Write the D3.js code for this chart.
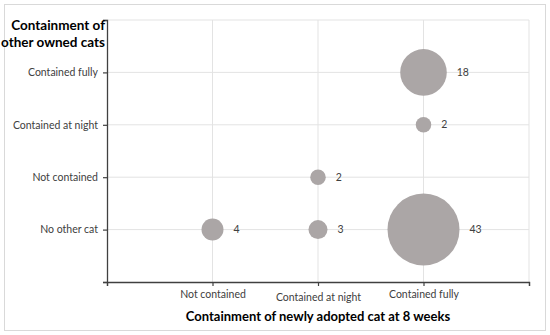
<!DOCTYPE html>
<html>
<head>
<meta charset="utf-8">
<script src="https://cdn.jsdelivr.net/npm/d3@7"></script>
<style>
  body { margin: 0; background: #fff; }
  text { font-family: Lato, "Open Sans", sans-serif; fill: #404040; }
</style>
</head>
<body>
<div id="chart"></div>
<script>
// categories (x = newly adopted cat, y = other owned cats)
const xCats = ['Not contained', 'Contained at night', 'Contained fully'];
const yCats = ['No other cat', 'Not contained', 'Contained at night', 'Contained fully'];

// bubbles: x category, y category, count
const bubbleX = ['Not contained', 'Contained at night', 'Contained at night', 'Contained fully', 'Contained fully', 'Contained fully'];
const bubbleY = ['No other cat', 'No other cat', 'Not contained', 'No other cat', 'Contained at night', 'Contained fully'];
const bubbleN = [4, 3, 2, 43, 2, 18];

const width = 550, height = 335;
const margin = { top: 20, left: 107, right: 21, bottom: 53 };

const svg = d3.select('#chart').append('svg')
  .attr('width', width)
  .attr('height', height);

// outer frame
svg.append('rect')
  .attr('x', 4.5).attr('y', 4.5)
  .attr('width', 541).attr('height', 326)
  .attr('fill', 'none')
  .attr('stroke', '#d9d9d9');

const x = d3.scaleLinear()
  .domain([0, xCats.length + 1])
  .range([margin.left, width - margin.right]);

const y = d3.scaleLinear()
  .domain([0, yCats.length + 1])
  .range([height - margin.bottom, margin.top]);

const r = d3.scaleSqrt()
  .domain([0, d3.max(bubbleN)])
  .range([0, 36]);

const xPos = c => x(xCats.indexOf(c) + 1);
const yPos = c => y(yCats.indexOf(c) + 1);

// gridlines
svg.append('g')
  .selectAll('line')
  .data(d3.range(1, xCats.length + 2))
  .enter()
  .append('line')
  .attr('x1', d => x(d)).attr('x2', d => x(d))
  .attr('y1', y(0)).attr('y2', y(yCats.length + 1))
  .attr('stroke', '#e3e3e3');

svg.append('g')
  .selectAll('line')
  .data(d3.range(1, yCats.length + 2))
  .enter()
  .append('line')
  .attr('x1', x(0)).attr('x2', x(xCats.length + 1))
  .attr('y1', d => y(d)).attr('y2', d => y(d))
  .attr('stroke', '#e3e3e3');

// axes
const xAxis = d3.axisBottom(x)
  .ticks(xCats.length + 1)
  .tickSize(4)
  .tickFormat(d => xCats[d - 1] || '');

const yAxis = d3.axisLeft(y)
  .ticks(yCats.length + 1)
  .tickSize(4)
  .tickFormat(d => yCats[d - 1] || '');

const gx = svg.append('g')
  .attr('transform', 'translate(0,' + y(0) + ')')
  .call(xAxis);

const gy = svg.append('g')
  .attr('transform', 'translate(' + x(0) + ',0)')
  .call(yAxis);

[gx, gy].forEach(g => {
  g.select('.domain').attr('stroke', '#404040').attr('stroke-width', 1.3);
  g.selectAll('.tick line').attr('stroke', '#404040').attr('stroke-width', 1.2);
  g.selectAll('.tick text')
    .style('font-family', 'Lato, sans-serif')
    .style('font-size', '10.5px')
    .attr('fill', '#404040');
});

gx.selectAll('.tick text')
  .attr('y', 8)
  .attr('dy', d => d === 2 ? '1.0em' : '0.75em');
gy.selectAll('.tick text').attr('x', -9);

// bubbles
svg.append('g')
  .selectAll('circle')
  .data(bubbleN)
  .enter()
  .append('circle')
  .attr('cx', (d, i) => xPos(bubbleX[i]))
  .attr('cy', (d, i) => yPos(bubbleY[i]))
  .attr('r', d => r(d))
  .attr('fill', '#aba6a6');

svg.append('g')
  .selectAll('text')
  .data(bubbleN)
  .enter()
  .append('text')
  .attr('x', (d, i) => xPos(bubbleX[i]) + r(d) + 10)
  .attr('y', (d, i) => yPos(bubbleY[i]))
  .attr('dy', '0.35em')
  .style('font-size', '10.5px')
  .text(d => d);

// axis titles
svg.append('text')
  .attr('x', (x(0) + x(xCats.length + 1)) / 2)
  .attr('y', 321)
  .attr('text-anchor', 'middle')
  .style('font-size', '13px')
  .style('font-weight', 'bold')
  .style('fill', '#000')
  .text('Containment of newly adopted cat at 8 weeks');

svg.append('text')
  .attr('text-anchor', 'end')
  .style('font-size', '13.5px')
  .style('font-weight', 'bold')
  .style('fill', '#000')
  .selectAll('tspan')
  .data(['Containment of', 'other owned cats'])
  .enter()
  .append('tspan')
  .attr('x', 105)
  .attr('y', (d, i) => 30 + i * 17)
  .text(d => d);
</script>
</body>
</html>
